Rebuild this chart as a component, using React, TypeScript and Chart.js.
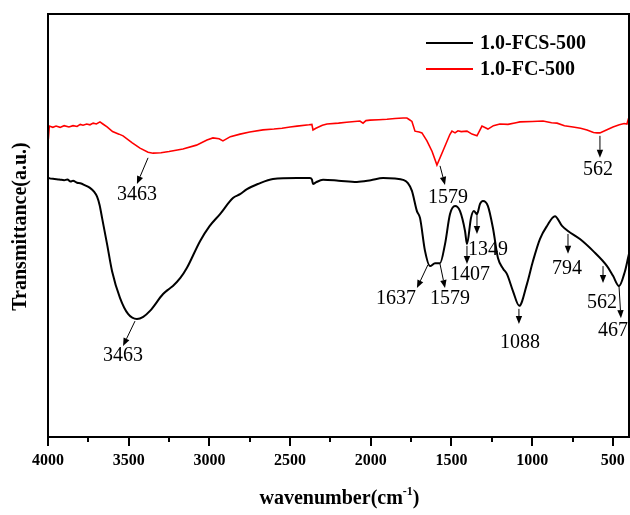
import React, { useEffect, useRef } from "react";
import { Chart, registerables } from "chart.js";
Chart.register(...registerables);

// ---------- data ----------
const seriesLabels = ["1.0-FCS-500", "1.0-FC-500"];
const seriesColors = ["#000000", "#ff0000"];

const fcsWave = [4000, 3994, 3960, 3930, 3900, 3880, 3860, 3845, 3820, 3800, 3770, 3740, 3715, 3696, 3680, 3665, 3634, 3603, 3554, 3504, 3449, 3410, 3368, 3287, 3250, 3226, 3180, 3139, 3058, 3000, 2934, 2854, 2810, 2767, 2700, 2606, 2457, 2377, 2365, 2358, 2340, 2296, 2200, 2086, 2000, 1924, 1850, 1800, 1770, 1745, 1714, 1695, 1664, 1633, 1602, 1571, 1540, 1509, 1478, 1447, 1416, 1404, 1379, 1361, 1342, 1323, 1305, 1274, 1243, 1212, 1180, 1156, 1119, 1080, 1032, 995, 952, 908, 859, 815, 778, 704, 623, 536, 499, 462, 425, 406, 400];
const fcsT = [61.4, 61.2, 61.0, 60.9, 60.7, 60.9, 60.4, 60.6, 60.1, 60.0, 59.5, 58.9, 58.0, 56.8, 54.8, 51.8, 45.6, 39.2, 32.9, 29.1, 27.9, 28.4, 29.8, 33.8, 35.0, 35.7, 37.6, 40.0, 46.3, 49.8, 52.7, 56.5, 57.4, 58.6, 59.8, 61.0, 61.2, 61.2, 60.9, 59.8, 60.2, 60.8, 60.6, 60.3, 60.7, 61.2, 61.1, 60.8, 60.0, 58.2, 53.4, 51.8, 44.0, 40.4, 41.1, 41.1, 45.6, 52.7, 54.6, 53.4, 48.7, 45.6, 51.8, 53.4, 52.7, 55.1, 55.8, 54.6, 49.4, 42.3, 39.8, 38.5, 34.5, 31.0, 36.2, 41.6, 46.8, 49.9, 52.2, 49.9, 48.7, 46.8, 44.0, 40.4, 38.1, 35.7, 39.2, 42.3, 43.3];

const fcWave = [3998, 3992, 3970, 3950, 3925, 3900, 3870, 3845, 3820, 3800, 3783, 3760, 3740, 3720, 3700, 3678, 3660, 3634, 3600, 3560, 3535, 3480, 3430, 3380, 3349, 3300, 3250, 3164, 3080, 3015, 2978, 2940, 2916, 2870, 2810, 2750, 2668, 2600, 2550, 2500, 2457, 2383, 2365, 2358, 2340, 2300, 2271, 2200, 2150, 2067, 2048, 2030, 2005, 1950, 1900, 1850, 1800, 1776, 1760, 1745, 1726, 1700, 1683, 1652, 1620, 1590, 1553, 1510, 1497, 1478, 1460, 1440, 1404, 1373, 1342, 1311, 1274, 1240, 1200, 1150, 1100, 1076, 1000, 933, 880, 846, 800, 747, 700, 660, 620, 598, 580, 540, 499, 460, 430, 413, 405, 400];
const fcT = [70.4, 73.5, 73.2, 73.5, 73.2, 73.6, 73.3, 73.6, 73.4, 73.9, 73.7, 74.0, 73.8, 74.2, 74.0, 74.5, 74.0, 73.3, 72.2, 71.6, 71.2, 69.6, 68.3, 67.3, 67.1, 67.2, 67.5, 68.1, 69.0, 70.2, 70.7, 70.5, 70.0, 71.0, 71.6, 72.1, 72.6, 72.8, 73.0, 73.3, 73.5, 73.8, 73.9, 72.6, 73.0, 73.7, 74.0, 74.2, 74.4, 74.7, 74.2, 74.8, 74.9, 75.0, 75.1, 75.3, 75.4, 75.4, 75.0, 74.6, 72.3, 72.1, 71.9, 70.0, 67.5, 64.3, 67.6, 71.5, 72.3, 71.9, 72.4, 72.2, 72.3, 71.6, 71.2, 73.5, 72.8, 73.6, 74.0, 73.9, 74.3, 74.5, 74.6, 74.7, 74.3, 74.2, 73.6, 73.3, 73.0, 72.6, 72.0, 71.9, 71.9, 72.6, 73.3, 73.8, 74.1, 74.0, 75.0, 74.7];

const xMajorTicks = [4000, 3500, 3000, 2500, 2000, 1500, 1000, 500];
const xMinorTicks = [3750, 3250, 2750, 2250, 1750, 1250, 750];

// annotations: label, arrow start (x,y), arrow end (x,y), text centre (x,y) -- data units
const annLabels = ["3463", "1579", "562", "3463", "1637", "1579", "1407", "1349", "1088", "794", "562", "467"];
const annFromX = [3380, 1571, 580, 3461, 1646, 1571, 1404, 1342, 1082, 778, 561, 462];
const annFromY = [66.0, 64.1, 71.2, 27.4, 40.7, 40.9, 45.2, 53.0, 30.3, 48.0, 40.4, 35.7];
const annToX = [3449, 1540, 580, 3535, 1714, 1540, 1404, 1342, 1082, 778, 561, 450];
const annToY = [59.8, 59.6, 66.0, 21.5, 35.2, 35.2, 40.9, 48.0, 26.7, 43.3, 36.4, 28.1];
const annTextX = [3449, 1522, 592, 3535, 1844, 1509, 1385, 1274, 1076, 784, 567, 499];
const annTextY = [57.2, 56.5, 63.1, 19.1, 32.6, 32.6, 38.3, 44.2, 22.2, 39.7, 31.7, 25.1];

const xTitle = "wavenumber(cm";
const xTitleSup = "-1";
const xTitleEnd = ")";
const yTitle = "Transmittance(a.u.)";

const SERIF = "'Liberation Serif', 'Times New Roman', serif";

const decorPlugin = {
  id: "decor",
  afterDatasetsDraw(chart: any) {
    const ctx = chart.ctx as CanvasRenderingContext2D;
    const { left, right, top, bottom } = chart.chartArea;
    const xs = chart.scales.x;
    const ys = chart.scales.y;
    ctx.save();
    // frame
    ctx.strokeStyle = "#000";
    ctx.lineWidth = 2;
    ctx.strokeRect(left, top, right - left, bottom - top);
    // ticks
    ctx.lineWidth = 2;
    ctx.beginPath();
    xMajorTicks.forEach((v) => {
      const px = Math.round(xs.getPixelForValue(v));
      ctx.moveTo(px, bottom);
      ctx.lineTo(px, bottom + 9);
    });
    xMinorTicks.forEach((v) => {
      const px = Math.round(xs.getPixelForValue(v));
      ctx.moveTo(px, bottom);
      ctx.lineTo(px, bottom + 5);
    });
    ctx.stroke();

    // annotations
    ctx.fillStyle = "#000";
    ctx.strokeStyle = "#000";
    ctx.lineWidth = 1;
    annLabels.forEach((lab, i) => {
      const x1 = xs.getPixelForValue(annFromX[i]);
      const y1 = ys.getPixelForValue(annFromY[i]);
      const x2 = xs.getPixelForValue(annToX[i]);
      const y2 = ys.getPixelForValue(annToY[i]);
      const ang = Math.atan2(y2 - y1, x2 - x1);
      const hl = 8, hw = 3.2;
      const bx = x2 - hl * Math.cos(ang);
      const by = y2 - hl * Math.sin(ang);
      ctx.beginPath();
      ctx.moveTo(x1, y1);
      ctx.lineTo(bx, by);
      ctx.stroke();
      ctx.beginPath();
      ctx.moveTo(x2, y2);
      ctx.lineTo(bx + hw * Math.sin(ang), by - hw * Math.cos(ang));
      ctx.lineTo(bx - hw * Math.sin(ang), by + hw * Math.cos(ang));
      ctx.closePath();
      ctx.fill();
      ctx.font = `20px ${SERIF}`;
      ctx.textAlign = "center";
      ctx.textBaseline = "middle";
      ctx.fillText(lab, xs.getPixelForValue(annTextX[i]), ys.getPixelForValue(annTextY[i]));
    });

    // legend
    ctx.font = `bold 20px ${SERIF}`;
    ctx.textAlign = "left";
    ctx.textBaseline = "middle";
    chart.data.datasets.forEach((ds: any, i: number) => {
      const ly = 43 + i * 26;
      ctx.strokeStyle = ds.borderColor;
      ctx.lineWidth = 2;
      ctx.beginPath();
      ctx.moveTo(426, ly);
      ctx.lineTo(473, ly);
      ctx.stroke();
      ctx.fillStyle = "#000";
      ctx.fillText(ds.label, 480, ly + 1);
    });

    // x title with superscript
    ctx.fillStyle = "#000";
    ctx.font = `bold 20px ${SERIF}`;
    const w1 = ctx.measureText(xTitle).width;
    ctx.font = `bold 12px ${SERIF}`;
    const w2 = ctx.measureText(xTitleSup).width;
    ctx.font = `bold 20px ${SERIF}`;
    const w3 = ctx.measureText(xTitleEnd).width;
    const cx = (left + right) / 2 + 1;
    let sx = cx - (w1 + w2 + w3) / 2;
    const ty = 498;
    ctx.textAlign = "left";
    ctx.textBaseline = "alphabetic";
    ctx.fillText(xTitle, sx, ty + 6);
    sx += w1;
    ctx.font = `bold 12px ${SERIF}`;
    ctx.fillText(xTitleSup, sx, ty - 3);
    sx += w2;
    ctx.font = `bold 20px ${SERIF}`;
    ctx.fillText(xTitleEnd, sx, ty + 6);

    // y title
    ctx.save();
    ctx.translate(21, (top + bottom) / 2 + 1);
    ctx.rotate(-Math.PI / 2);
    ctx.textAlign = "center";
    ctx.textBaseline = "middle";
    ctx.font = `bold 20px ${SERIF}`;
    ctx.fillText(yTitle, 0, 0);
    ctx.restore();

    ctx.restore();
  },
};

export default function App() {
  const ref = useRef<HTMLCanvasElement | null>(null);
  useEffect(() => {
    document.body.style.margin = "0";
    const canvas = ref.current!;
    const chart = new Chart(canvas, {
      type: "line",
      data: {
        datasets: [
          {
            label: seriesLabels[0],
            data: fcsWave.map((w, i) => ({ x: w, y: fcsT[i] })),
            borderColor: seriesColors[0],
            borderWidth: 2,
            pointRadius: 0,
            cubicInterpolationMode: "monotone",
            fill: false,
          },
          {
            label: seriesLabels[1],
            data: fcWave.map((w, i) => ({ x: w, y: fcT[i] })),
            borderColor: seriesColors[1],
            borderWidth: 1.6,
            pointRadius: 0,
            tension: 0,
            fill: false,
          },
        ],
      },
      options: {
        animation: false,
        responsive: false,
        maintainAspectRatio: false,
        devicePixelRatio: 1,
        layout: { padding: { left: 48, right: 1, top: 14, bottom: 0 } },
        plugins: { legend: { display: false }, tooltip: { enabled: false } },
        events: [],
        scales: {
          x: {
            type: "linear",
            reverse: true,
            min: 400,
            max: 4000,
            grid: { display: false, drawTicks: false },
            border: { display: false },
            afterBuildTicks: (scale: any) => {
              scale.ticks = xMajorTicks.map((v) => ({ value: v }));
            },
            afterFit: (scale: any) => {
              scale.height = 78;
              scale.paddingLeft = 0;
              scale.paddingRight = 0;
            },
            ticks: {
              autoSkip: false,
              maxRotation: 0,
              padding: 14,
              color: "#000",
              font: { family: SERIF, size: 16, weight: "bold" },
              callback: (v: any) => String(v),
            },
          },
          y: {
            display: false,
            min: 0,
            max: 100,
          },
        },
      },
      plugins: [decorPlugin],
    } as any);
    return () => chart.destroy();
  }, []);
  return (
    <div style={{ position: "absolute", left: 0, top: 0, width: 630, height: 515, background: "#fff" }}>
      <canvas ref={ref} width={630} height={515} style={{ width: 630, height: 515 }} />
    </div>
  );
}
